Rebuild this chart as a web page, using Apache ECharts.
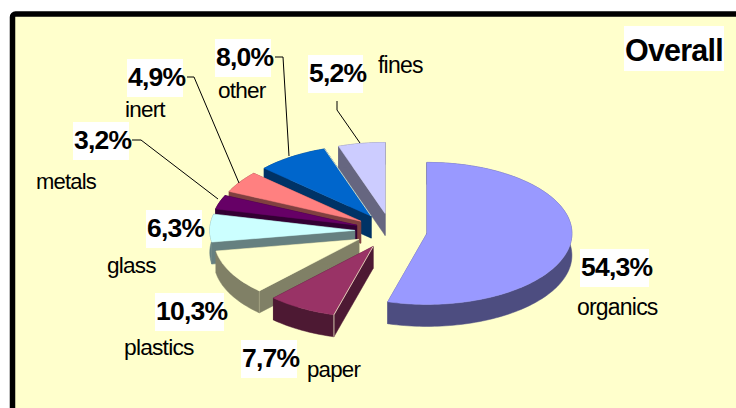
<!DOCTYPE html>
<html>
<head>
<meta charset="utf-8">
<style>
  html, body { margin: 0; padding: 0; background: #fff; }
  #chart { width: 736px; height: 408px; }
  svg text { letter-spacing: -0.8px; }
</style>
<script src="https://cdn.jsdelivr.net/npm/echarts@6/dist/echarts.min.js"></script>
</head>
<body>
<div id="chart"></div>
<script>
// Waste composition shares, clockwise from twelve o'clock.
const categories = ['organics', 'paper', 'plastics', 'glass', 'metals', 'inert', 'other', 'fines'];
const shares = [54.3, 7.7, 10.3, 6.3, 3.2, 4.9, 8.0, 5.2];
const chartTitle = 'Overall';

const topColors = ['#9999FF', '#993366', '#FFFFCC', '#CCFFFF', '#660066', '#FF8080', '#0066CC', '#CCCCFF'];
const sideColors = ['#4D4D80', '#4D1933', '#808066', '#668080', '#330033', '#804040', '#003366', '#666680'];

// Tilted-disc projection of the exploded pie.
const disc = { cx: 391, cy: 231, rx: 145, ry: 71, depth: 22, explode: 0.25 };

// Callout placement per slice: box [x, y, w, h], name [x, baseline, font size].
const calloutLayout = [
  { box: [580, 249, 69, 38], name: [577, 315, 23] },
  { box: [241, 340, 56, 38], name: [307, 377, 22.3] },
  { box: [155, 293, 69, 38], name: [124, 355, 22.8] },
  { box: [146, 210, 56, 38], name: [107, 273, 22.6] },
  { box: [73, 122, 56, 38], name: [36, 189, 22] },
  { box: [127, 59, 56, 38], name: [125, 117, 22.5] },
  { box: [215, 39, 56, 38], name: [218, 98, 22.6] },
  { box: [308, 55, 55, 38], name: [378, 73, 23] }
];
const leaderPaths = {
  4: [[132, 140], [141, 140], [218, 199]],
  5: [[187, 77], [194, 77], [239, 183]],
  6: [[275, 57], [283, 57], [289, 156]],
  7: [[337, 101], [337, 110], [360, 143]]
};
// Pale seams on the top-face edges: slice index -> 'start' or 'end' radial edge.
const seamEdges = { 1: 'start', 6: 'end' };
const cornerSeams = [1, 2];

const total = shares.reduce((a, b) => a + b, 0);
const cumulative = [];
shares.reduce((sum, v, i) => { cumulative[i] = sum; return sum + v; }, 0);

function rimPoint(c, deg) {
  const t = deg * Math.PI / 180;
  return [c[0] + disc.rx * Math.sin(t), c[1] - disc.ry * Math.cos(t)];
}
function baselineToMiddle(y, size) { return y - size * 0.34; }

function renderSlice(params, api) {
  const i = params.dataIndex;
  const value = api.value(0);
  const a0 = cumulative[i] / total * 360;
  const a1 = a0 + value / total * 360;
  const mid = (a0 + a1) / 2 * Math.PI / 180;
  const apex = [
    disc.cx + disc.explode * disc.rx * Math.sin(mid),
    disc.cy - disc.explode * disc.ry * Math.cos(mid)
  ];
  const arc = [];
  for (let a = a0; a < a1; a += 1.5) arc.push(rimPoint(apex, a));
  arc.push(rimPoint(apex, a1));
  const down = p => [p[0], p[1] + disc.depth];
  const order = Math.round(apex[1]) * 4;
  const side = sideColors[i];
  const children = [];
  const quad = (pts) => children.push({
    type: 'polygon', z2: order, shape: { points: pts },
    style: { fill: side, stroke: side, lineWidth: 0.5 }
  });
  quad([apex, arc[0], down(arc[0]), down(apex)]);
  quad([apex, arc[arc.length - 1], down(arc[arc.length - 1]), down(apex)]);
  quad(arc.concat(arc.map(down).reverse()));
  children.push({
    type: 'polygon', z2: order + 1, shape: { points: [apex].concat(arc) },
    style: { fill: topColors[i], stroke: topColors[i], lineWidth: 0.5 }
  });
  if (seamEdges[i]) {
    const end = seamEdges[i] === 'start' ? arc[0] : arc[arc.length - 1];
    children.push({
      type: 'polyline', z2: order + 2, shape: { points: [apex, end] },
      style: { fill: 'none', stroke: '#F4EFC8', lineWidth: 1, opacity: 0.8 }
    });
  }
  if (cornerSeams.includes(i)) {
    const p = arc[0];
    children.push({
      type: 'polyline', z2: order + 2, shape: { points: [p, down(p)] },
      style: { fill: 'none', stroke: '#F4EFC8', lineWidth: 1, opacity: i === 1 ? 0.8 : 0.25 }
    });
  }
  if (leaderPaths[i]) {
    children.push({
      type: 'polyline', z2: 5000, shape: { points: leaderPaths[i] },
      style: { fill: 'none', stroke: '#000', lineWidth: 1 }
    });
  }
  const c = calloutLayout[i];
  children.push({
    type: 'rect', z2: 5001,
    shape: { x: c.box[0], y: c.box[1], width: c.box[2], height: c.box[3] },
    style: { fill: '#fff' }
  });
  children.push({
    type: 'text', z2: 5002,
    style: {
      x: c.box[0] + 1, y: baselineToMiddle(c.box[1] + 27, 26.5),
      text: value.toFixed(1).replace('.', ',') + '%',
      font: 'bold 26.5px "Liberation Sans", Arial, sans-serif',
      fill: '#000', align: 'left', verticalAlign: 'middle'
    }
  });
  children.push({
    type: 'text', z2: 5002,
    style: {
      x: c.name[0], y: baselineToMiddle(c.name[1], c.name[2]),
      text: categories[i],
      font: c.name[2] + 'px "Liberation Sans", Arial, sans-serif',
      fill: '#000', align: 'left', verticalAlign: 'middle'
    }
  });
  return { type: 'group', children };
}

const chart = echarts.init(document.getElementById('chart'), null, { renderer: 'svg', width: 736, height: 408 });
chart.setOption({
  animation: false,
  backgroundColor: '#fff',
  graphic: [
    {
      type: 'rect', z: 0, silent: true,
      shape: { x: 12.5, y: 14, width: 760, height: 430, r: 3 },
      style: { fill: '#FFFFCC', stroke: '#000', lineWidth: 5.5 }
    },
    {
      type: 'rect', z: 0, silent: true,
      shape: { x: 624, y: 26, width: 100, height: 45 },
      style: { fill: '#fff' }
    },
    {
      type: 'text', z: 1, silent: true,
      style: {
        x: 625, y: 60 - 30.5 * 0.34, text: chartTitle,
        font: 'bold 30.5px "Liberation Sans", Arial, sans-serif',
        fill: '#000', align: 'left', verticalAlign: 'middle'
      }
    }
  ],
  series: [{
    type: 'custom',
    coordinateSystem: 'none',
    z: 2,
    silent: true,
    clip: false,
    renderItem: renderSlice,
    data: shares.map((v, i) => ({ name: categories[i], value: [v] }))
  }]
});
</script>
</body>
</html>
